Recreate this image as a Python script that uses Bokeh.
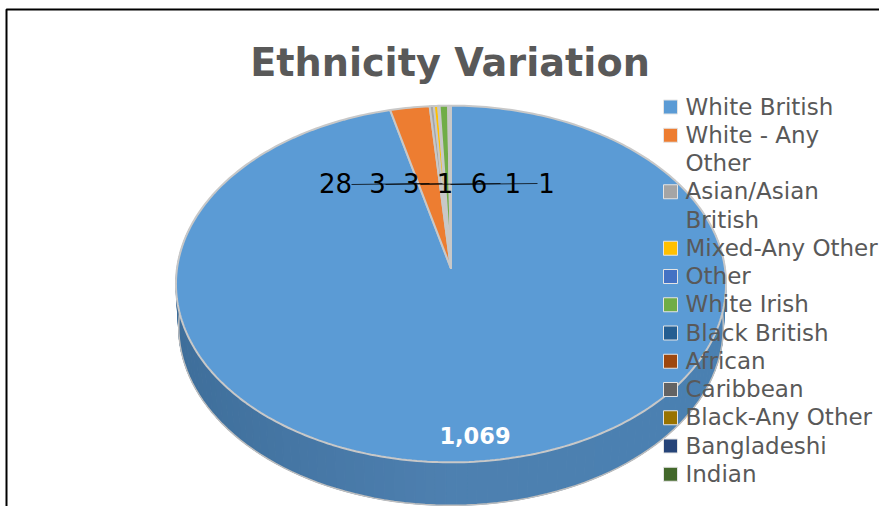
import math
import numpy as np
from bokeh.plotting import figure
from bokeh.models import Range1d
from bokeh.core.properties import value
from bokeh.embed import file_html
from bokeh.resources import INLINE

categories = ["White British", "White - Any Other", "Asian/Asian British", "Mixed-Any Other", "Other",
              "White Irish", "Black British", "African", "Caribbean", "Black-Any Other", "Bangladeshi", "Indian"]
counts = [1069, 28, 3, 3, 1, 6, 1, 1, 0, 0, 0, 0]
colors = ["#5B9BD5", "#ED7D31", "#A5A5A5", "#FFC000", "#4472C4", "#70AD47",
          "#255E91", "#9E480E", "#636363", "#997300", "#264478", "#43682B"]
legend_lines = [["White British"], ["White - Any", "Other"], ["Asian/Asian", "British"], ["Mixed-Any Other"], ["Other"],
                ["White Irish"], ["Black British"], ["African"], ["Caribbean"], ["Black-Any Other"], ["Bangladeshi"], ["Indian"]]
title = "Ethnicity Variation"

W, H = 879, 506
AX, AY, A, B, K = 450.5, 268.0, 274.0, 177.0, 0.0868
DEPTH, SHRINK = 43.0, 0.99
FONT = "DejaVu Sans"

def proj(theta):
    u, v = np.sin(theta), np.cos(theta)
    w = 1 + K * v
    return AX + A * u / w, AY - B * v / w

p = figure(width=W, height=H, x_range=Range1d(0, W), y_range=Range1d(H, 0), output_backend="svg",
           toolbar_location=None, min_border=0, outline_line_color=None, background_fill_color="white")
p.xaxis.visible = False
p.yaxis.visible = False
p.grid.visible = False

# side wall
ts = np.radians(np.linspace(77, 283, 104))
xt, yt = proj(ts)
xb = AX + (xt - AX) * SHRINK
yb = yt + DEPTH
wx, wy, wc = [], [], []
for i in range(len(ts) - 1):
    wx.append([xt[i], xt[i + 1], xb[i + 1], xb[i]])
    wy.append([yt[i], yt[i + 1], yb[i + 1], yb[i]])
    f = abs(math.sin(ts[i]))
    if math.sin(ts[i]) < 0:
        r, g, b = 78 - 16 * f, 128 - 18 * f, 176 - 22 * f
    else:
        r, g, b = 78 - 4 * f, 128 + 0 * f, 176 + 2 * f
    wc.append("#%02X%02X%02X" % (int(r), int(g), int(b)))
p.patches(wx, wy, fill_color=wc, line_color=wc, line_width=1)
p.line(xb, yb, line_color="#BEBEBE", line_width=1.5)

# top slices
total = sum(counts)
start = 0.0
sx, sy, sc = [], [], []
for c, col in zip(counts, colors):
    if c == 0:
        continue
    end = start + c / total * 2 * math.pi
    t = np.linspace(start, end, max(3, int(c / total * 360) + 2))
    x, y = proj(t)
    sx.append([AX] + list(x))
    sy.append([AY] + list(y))
    sc.append(col)
    start = end
p.patches(sx, sy, fill_color=sc, line_color="#C8C8C8", line_width=2)

# leader lines
label_values = [c for c in counts[1:] if c > 0]
label_x = [335 + (0 if i == 0 else 42 + 33.8 * (i - 1)) for i in range(len(label_values))]
LY = 184.0
p.multi_line([[351, 429], [385, 442], [420, 500], [450, 537]], [[LY, LY - 1]] * 4, line_color="#000000", line_alpha=0.75, line_width=1)

p.text(label_x, [LY - 1.5] * len(label_x), text=[str(v) for v in label_values], text_font=value(FONT), text_font_size="26px",
       text_color="black", text_align="center", text_baseline="middle")
p.text([474.5], [435], text=[f"{counts[0]:,}"], text_font=value(FONT), text_font_size="22.5px", text_font_style="bold",
       text_color="white", text_align="center", text_baseline="middle")

# title
p.text([449.5], [62], text=[title], text_font=value(FONT), text_font_size="38.2px", text_font_style="bold",
       text_color="#595959", text_align="center", text_baseline="middle")

# legend
row_y = 106.5
STEP = 28.25
tx, ty, tt, qx, qy, qc = [], [], [], [], [], []
r = 0
for lines, col in zip(legend_lines, colors):
    qx.append(670)
    qy.append(row_y + r * STEP)
    qc.append(col)
    for ln in lines:
        tx.append(685)
        ty.append(row_y + r * STEP - 0.5)
        tt.append(ln)
        r += 1
p.rect(qx, qy, width=14, height=14, fill_color=qc, line_color="#E4E4E4", line_width=1)
p.text(tx, ty, text=tt, text_font=value(FONT), text_font_size="23px", text_color="#595959",
       text_align="left", text_baseline="middle")

# frame
p.line([6, 6, W + 5], [H + 5, 9, 9], line_color="black", line_width=2)

open("out.html", "w").write(file_html(p, INLINE))
